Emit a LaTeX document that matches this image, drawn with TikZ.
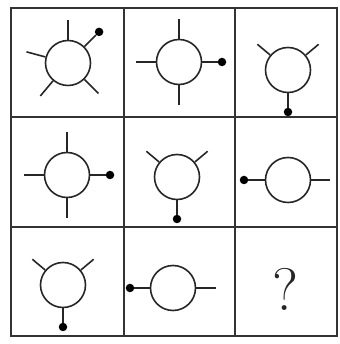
\documentclass[tikz,border=0pt]{standalone}
\usepackage{fontspec}
\usepackage{tikz}
\usetikzlibrary{calc}
\begin{document}
\begin{tikzpicture}[
    x=1pt, y=1pt,
    ring/.style={circle, draw=black!85, line width=1.6pt, minimum size=45pt, inner sep=0pt},
    knob/.style={circle, fill=black, inner sep=0pt, minimum size=8.5pt},
    spoke/.style={draw=black!85, line width=1.6pt},
    gridline/.style={draw=black!80, line width=2pt}
  ]
  \useasboundingbox (0,0) rectangle (339,344);
  % grid
  \draw[gridline] (11,8) rectangle (337,336);
  \draw[gridline] (124,8) -- (124,336);
  \draw[gridline] (235,8) -- (235,336);
  \draw[gridline] (11,227) -- (337,227);
  \draw[gridline] (11,117) -- (337,117);
  % row 1
  \node[ring] (c1) at (68,281) {};
  \foreach \a in {90,165,230,315} \draw[spoke] (c1.\a) -- ($(c1)+(\a:43)$);
  \node[knob] (k1) at ($(c1)+(45:44)$) {};
  \draw[spoke] (c1.45) -- (k1);
  \node[ring] (c2) at (179,282) {};
  \foreach \a in {90,180,270} \draw[spoke] (c2.\a) -- ($(c2)+(\a:43)$);
  \node[knob] (k2) at ($(c2)+(0:43)$) {};
  \draw[spoke] (c2.0) -- (k2);
  \node[ring] (c3) at (288,274) {};
  \foreach \a in {40,140} \draw[spoke] (c3.\a) -- ($(c3)+(\a:40)$);
  \node[knob] (k3) at ($(c3)+(270:42)$) {};
  \draw[spoke] (c3.270) -- (k3);
  % row 2
  \node[ring] (c4) at (67,169) {};
  \foreach \a in {90,180,270} \draw[spoke] (c4.\a) -- ($(c4)+(\a:43)$);
  \node[knob] (k4) at ($(c4)+(0:43)$) {};
  \draw[spoke] (c4.0) -- (k4);
  \node[ring] (c5) at (177,167) {};
  \foreach \a in {40,140} \draw[spoke] (c5.\a) -- ($(c5)+(\a:40)$);
  \node[knob] (k5) at ($(c5)+(270:42)$) {};
  \draw[spoke] (c5.270) -- (k5);
  \node[ring] (c6) at (288,164) {};
  \draw[spoke] (c6.0) -- ($(c6)+(0:42)$);
  \node[knob] (k6) at ($(c6)+(180:44)$) {};
  \draw[spoke] (c6.180) -- (k6);
  % row 3
  \node[ring] (c7) at (63,59) {};
  \foreach \a in {40,140} \draw[spoke] (c7.\a) -- ($(c7)+(\a:40)$);
  \node[knob] (k7) at ($(c7)+(270:42)$) {};
  \draw[spoke] (c7.270) -- (k7);
  \node[ring] (c8) at (173,56) {};
  \draw[spoke] (c8.0) -- ($(c8)+(0:43)$);
  \node[knob] (k8) at ($(c8)+(180:43)$) {};
  \draw[spoke] (c8.180) -- (k8);
  \node[text=black!85, inner sep=0pt] (q) at (285,55) {\fontsize{60pt}{66pt}\selectfont ?};
\end{tikzpicture}
\end{document}
